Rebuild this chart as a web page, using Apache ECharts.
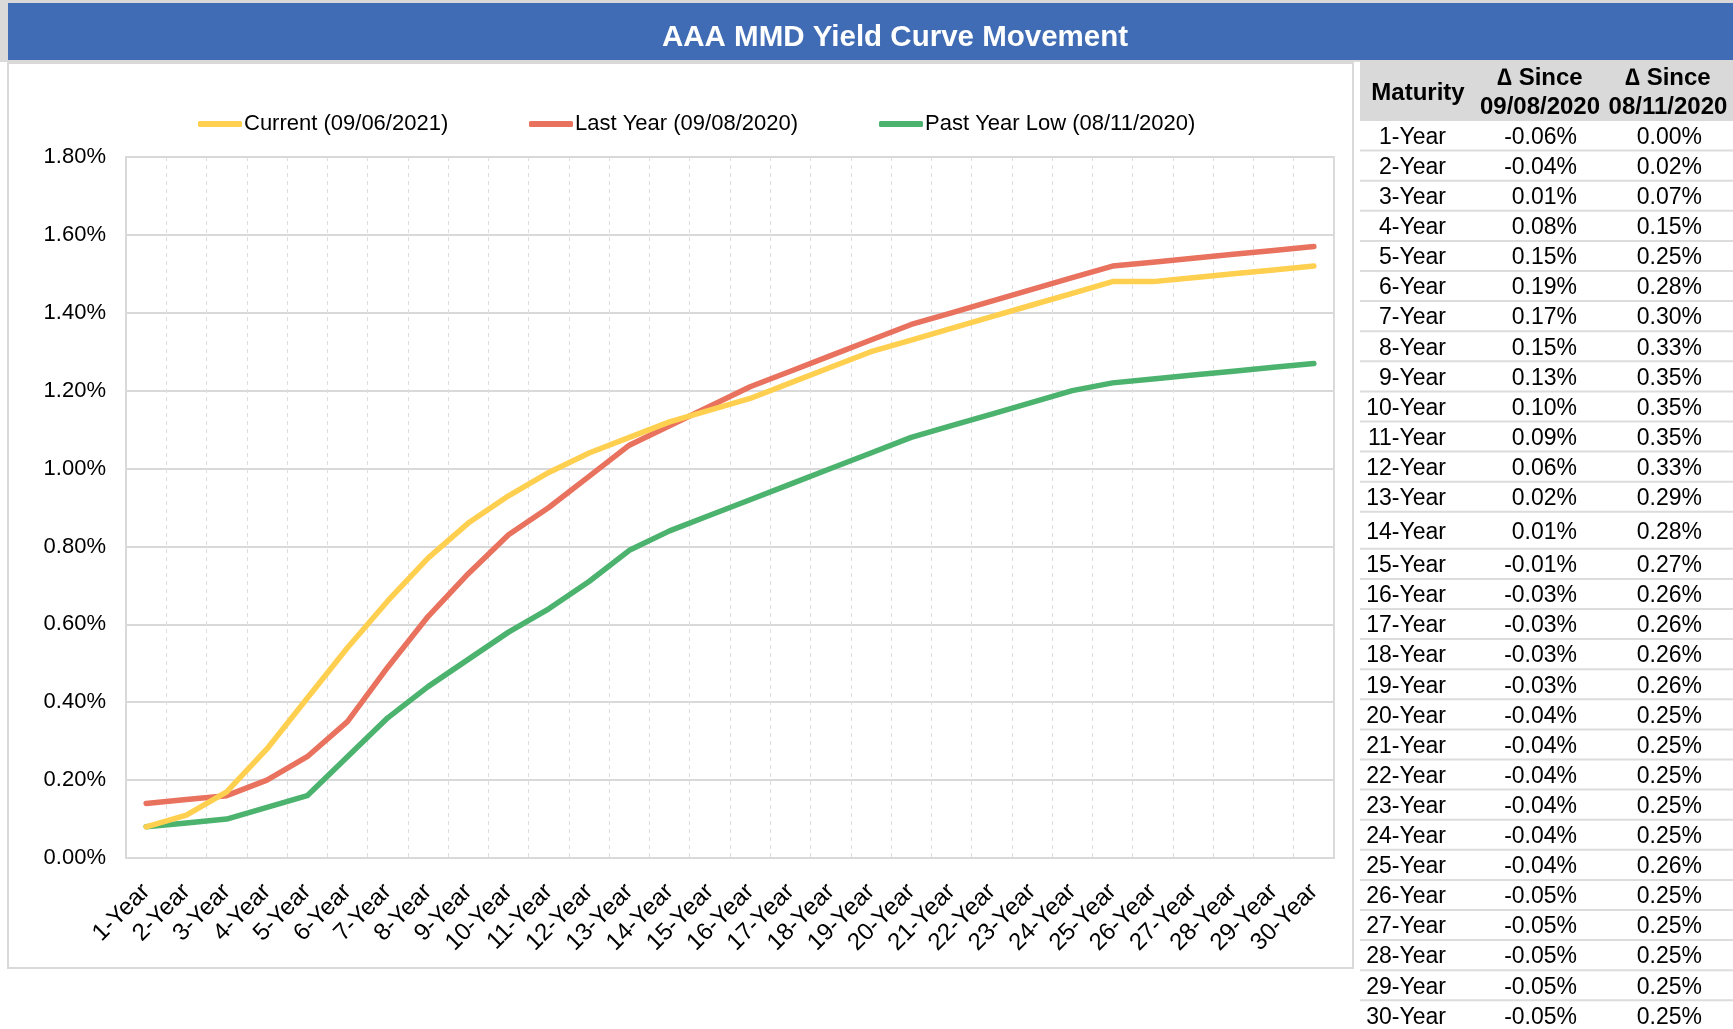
<!DOCTYPE html>
<html>
<head>
<meta charset="utf-8">
<script src="https://cdn.jsdelivr.net/npm/echarts@6/dist/echarts.min.js"></script>
<style>
  html, body { margin: 0; padding: 0; background: #fff; }
  #main { width: 1733px; height: 1029px; }
</style>
</head>
<body>
<div id="main"></div>
<script>
var maturities = ['1-Year', '2-Year', '3-Year', '4-Year', '5-Year', '6-Year', '7-Year', '8-Year', '9-Year', '10-Year',
  '11-Year', '12-Year', '13-Year', '14-Year', '15-Year', '16-Year', '17-Year', '18-Year', '19-Year', '20-Year',
  '21-Year', '22-Year', '23-Year', '24-Year', '25-Year', '26-Year', '27-Year', '28-Year', '29-Year', '30-Year'];

// yields in percent
var current = [0.08, 0.11, 0.17, 0.28, 0.41, 0.54, 0.66, 0.77, 0.86, 0.93,
  0.99, 1.04, 1.08, 1.12, 1.15, 1.18, 1.22, 1.26, 1.30, 1.33,
  1.36, 1.39, 1.42, 1.45, 1.48, 1.48, 1.49, 1.50, 1.51, 1.52];
var lastYear = [0.14, 0.15, 0.16, 0.20, 0.26, 0.35, 0.49, 0.62, 0.73, 0.83,
  0.90, 0.98, 1.06, 1.11, 1.16, 1.21, 1.25, 1.29, 1.33, 1.37,
  1.40, 1.43, 1.46, 1.49, 1.52, 1.53, 1.54, 1.55, 1.56, 1.57];
var pastYearLow = [0.08, 0.09, 0.10, 0.13, 0.16, 0.26, 0.36, 0.44, 0.51, 0.58,
  0.64, 0.71, 0.79, 0.84, 0.88, 0.92, 0.96, 1.00, 1.04, 1.08,
  1.11, 1.14, 1.17, 1.20, 1.22, 1.23, 1.24, 1.25, 1.26, 1.27];

// table columns
var sinceLastYear = [-0.06, -0.04, 0.01, 0.08, 0.15, 0.19, 0.17, 0.15, 0.13, 0.10,
  0.09, 0.06, 0.02, 0.01, -0.01, -0.03, -0.03, -0.03, -0.03, -0.04,
  -0.04, -0.04, -0.04, -0.04, -0.04, -0.05, -0.05, -0.05, -0.05, -0.05];
var sinceLow = [0.00, 0.02, 0.07, 0.15, 0.25, 0.28, 0.30, 0.33, 0.35, 0.35,
  0.35, 0.33, 0.29, 0.28, 0.27, 0.26, 0.26, 0.26, 0.26, 0.25,
  0.25, 0.25, 0.25, 0.25, 0.26, 0.25, 0.25, 0.25, 0.25, 0.25];

var seriesNames = ['Current (09/06/2021)', 'Last Year (09/08/2020)', 'Past Year Low (08/11/2020)'];
var seriesColors = ['#FFCF4F', '#E9725F', '#4BB36E'];
var yTicks = [0, 0.2, 0.4, 0.6, 0.8, 1.0, 1.2, 1.4, 1.6, 1.8];

var arial = "'Liberation Sans', Arial, sans-serif";

var myChart = echarts.init(document.getElementById('main'));

var graphics = [];
// title bar + chart frame
graphics.push({ type: 'rect', z: -10, shape: { x: 0, y: 0, width: 1733, height: 62 }, style: { fill: '#d9d9d9' } });
graphics.push({ type: 'rect', z: -9, shape: { x: 8, y: 3, width: 1725, height: 57 }, style: { fill: '#3F6CB4' } });
graphics.push({ type: 'rect', z: -9, shape: { x: 8, y: 63, width: 1345, height: 905 }, style: { fill: '#fff', stroke: '#d9d9d9', lineWidth: 2 } });
graphics.push({
  type: 'text', x: 895, y: 38,
  style: { text: 'AAA MMD Yield Curve Movement', fill: '#fff', font: 'bold 29.5px ' + arial,
    align: 'center', verticalAlign: 'middle', textAlign: 'center', textVerticalAlign: 'middle' }
});

// table on the right
var tx = 1360;
graphics.push({ type: 'rect', shape: { x: tx, y: 62, width: 1733 - tx, height: 59 }, style: { fill: '#d9d9d9' } });
function addText(x, y, text, align, bold) {
  graphics.push({
    type: 'text', x: x, y: y,
    style: { text: text, fill: '#000', font: (bold ? 'bold 24px ' : '23px ') + arial,
      align: align, verticalAlign: 'middle', textAlign: align, textVerticalAlign: 'middle' }
  });
}
addText(1418, 93, 'Maturity', 'center', true);
addText(1540, 78, '\u2206 Since', 'center', true);
addText(1540, 107, '09/08/2020', 'center', true);
addText(1668, 78, '\u2206 Since', 'center', true);
addText(1668, 107, '08/11/2020', 'center', true);

var rowTop = 120.5;
for (var i = 0; i < maturities.length; i++) {
  var h = (i === 13) ? 37 : 30.1;
  var cy = rowTop + h / 2 + 2;
  addText(1446, cy, maturities[i], 'right', false);
  addText(1577, cy, sinceLastYear[i].toFixed(2) + '%', 'right', false);
  addText(1702, cy, sinceLow[i].toFixed(2) + '%', 'right', false);
  rowTop += h;
  graphics.push({ type: 'line', shape: { x1: tx, y1: rowTop, x2: 1733, y2: rowTop }, style: { stroke: '#dcdcdc', lineWidth: 2 } });
}

var legendLefts = [193, 524, 874];
var legends = seriesNames.map(function (name, k) {
  return {
    data: [name],
    left: legendLefts[k],
    top: 108,
    icon: 'roundRect',
    itemWidth: 44,
    itemHeight: 6,
    textStyle: { fontFamily: arial, fontSize: 22, color: '#000', padding: [0, 0, 0, -3] }
  };
});

var series = [current, lastYear, pastYearLow].map(function (data, k) {
  return {
    name: seriesNames[k],
    type: 'line',
    data: data,
    symbol: 'none',
    z: 10 - k,
    lineStyle: { color: seriesColors[k], width: 5.5, cap: 'round', join: 'round' },
    itemStyle: { color: seriesColors[k] }
  };
});

var option = {
  animation: false,
  backgroundColor: '#fff',
  graphic: { elements: graphics },
  legend: legends,
  grid: {
    left: 126, right: 399, top: 157, bottom: 171,
    show: true, borderColor: '#d9d9d9', borderWidth: 2, containLabel: false
  },
  xAxis: {
    type: 'category',
    data: maturities,
    boundaryGap: true,
    axisLine: { show: true, lineStyle: { color: '#d9d9d9', width: 2 } },
    axisTick: { show: false },
    axisLabel: { rotate: 45, interval: 0, margin: 30, color: '#000', fontFamily: arial, fontSize: 24 },
    splitLine: { show: true, interval: 0, lineStyle: { color: '#dedede', width: 1, type: [4, 4] } }
  },
  yAxis: {
    type: 'value',
    min: yTicks[0],
    max: yTicks[yTicks.length - 1],
    interval: 0.2,
    axisLine: { show: true, lineStyle: { color: '#d9d9d9', width: 2 } },
    axisTick: { show: false },
    axisLabel: { margin: 20, color: '#000', fontFamily: arial, fontSize: 22,
      formatter: function (v) { return v.toFixed(2) + '%'; } },
    splitLine: { show: true, lineStyle: { color: '#d9d9d9', width: 2 } }
  },
  series: series
};

myChart.setOption(option);
</script>
</body>
</html>
